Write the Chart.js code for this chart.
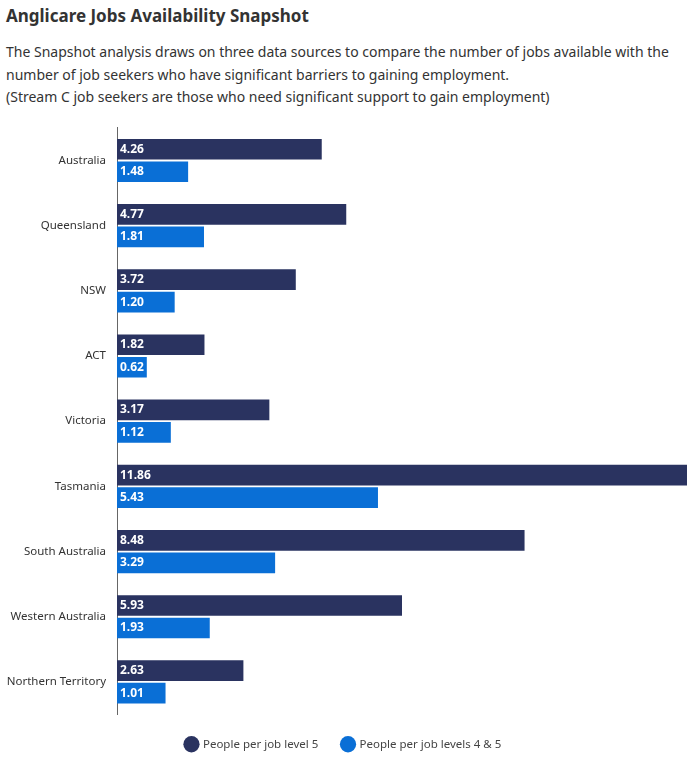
<!DOCTYPE html>
<html>
<head>
<meta charset="utf-8">
<script src="https://cdn.jsdelivr.net/npm/chart.js@4"></script>
<style>
  body { margin: 0; font-family: "Noto Sans", sans-serif; background: #fff; color: #333; }
  h1 { font-size: 17px; font-weight: bold; margin: 0; position: absolute; left: 6px; top: 4px; color: #333; }
  .sub { position: absolute; left: 6px; top: 41px; font-size: 14px; line-height: 22.5px; color: #333; width: 680px; }
  .wrap { position: absolute; left: 0; top: 118px; width: 687px; height: 648px; }
</style>
</head>
<body>
<h1>Anglicare Jobs Availability Snapshot</h1>
<div class="sub">The Snapshot analysis draws on three data sources to compare the number of jobs available with the number of job seekers who have significant barriers to gaining employment.<br>(Stream C job seekers are those who need significant support to gain employment)</div>
<div class="wrap"><canvas id="c"></canvas></div>
<script>
const regions = ["Australia", "Queensland", "NSW", "ACT", "Victoria", "Tasmania", "South Australia", "Western Australia", "Northern Territory"];
const level5 = [4.26, 4.77, 3.72, 1.82, 3.17, 11.86, 8.48, 5.93, 2.63];
const level45 = [1.48, 1.81, 1.20, 0.62, 1.12, 5.43, 3.29, 1.93, 1.01];

// labels drawn inside the start of each bar
const barLabels = {
    id: "barLabels",
    afterDatasetsDraw(chart) {
        const ctx = chart.ctx;
        ctx.save();
        ctx.fillStyle = "#fff";
        ctx.font = "bold 12px 'Noto Sans', sans-serif";
        ctx.textBaseline = "middle";
        chart.data.datasets.forEach((ds, i) => {
            chart.getDatasetMeta(i).data.forEach((bar, j) => {
                ctx.fillText(ds.data[j].toFixed(2), bar.base + 3, bar.y);
            });
        });
        ctx.restore();
    }
};

new Chart(document.getElementById("c"), {
    type: "bar",
    data: {
        labels: regions,
        datasets: [
            { label: "People per job level 5", data: level5, backgroundColor: "#2a3360" },
            { label: "People per job levels 4 & 5", data: level45, backgroundColor: "#0a6fd6" }
        ]
    },
    options: {
        indexAxis: "y",
        responsive: true,
        maintainAspectRatio: false,
        animation: false,
        layout: { padding: { top: 2, right: 0, bottom: 6 } },
        datasets: { bar: { categoryPercentage: 0.69, barPercentage: 0.92 } },
        scales: {
            x: { display: false, min: 0, max: 11.86 },
            y: {
                grid: { display: false },
                border: { color: "#666" },
                ticks: { color: "#333", font: { size: 11.5, family: "Noto Sans" } },
                afterFit: s => { s.width = 117; }
            }
        },
        plugins: {
            legend: {
                position: "bottom",
                labels: {
                    usePointStyle: true, pointStyle: "circle", boxWidth: 14, boxHeight: 14,
                    padding: 24, color: "#444", font: { size: 11.5, family: "Noto Sans" }
                }
            },
            tooltip: { enabled: false }
        }
    },
    plugins: [barLabels]
});
</script>
</body>
</html>
